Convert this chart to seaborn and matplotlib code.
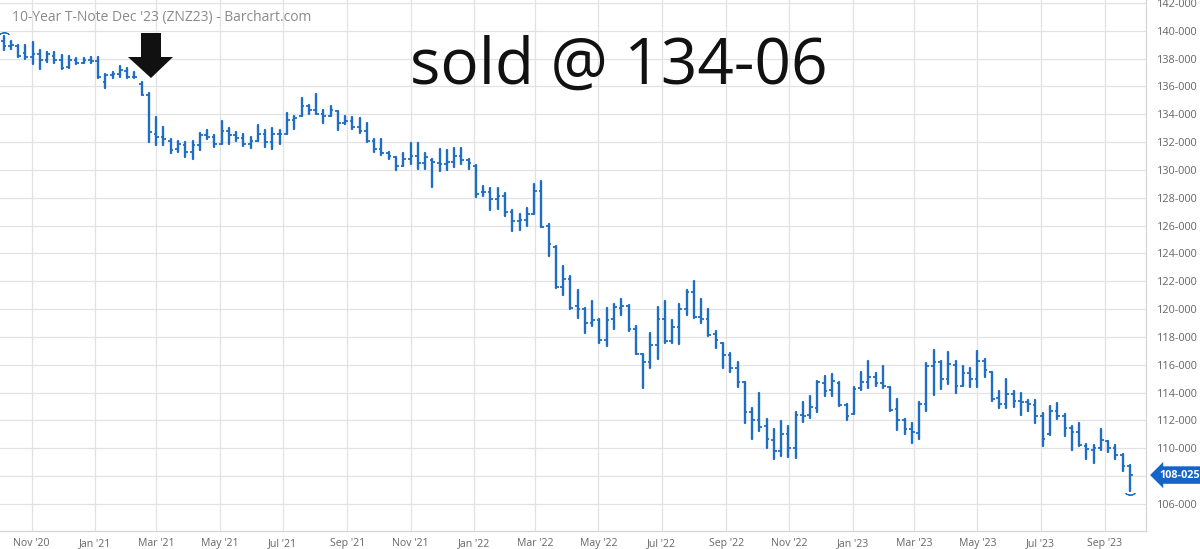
import numpy as np
import pandas as pd
import seaborn as sns
import matplotlib
matplotlib.use("Agg")
import matplotlib.pyplot as plt
import matplotlib.dates as mdates
from matplotlib.patches import Polygon
from matplotlib.ticker import FixedLocator, FuncFormatter

# weekly OHLC bars, ZNZ23 (10-Year T-Note Dec '23)
first_week = "2020-10-05"
highs = [139.65, 139.3, 139.0, 138.95, 139.2, 138.65, 138.5, 138.45, 138.25, 138.2,
         138.05, 138.05, 138.1, 138.1, 136.9, 137.05, 137.5, 137.3, 137.05, 136.35,
         135.5, 133.8, 133.05, 132.25, 132.1, 132.0, 132.1, 132.65, 132.85, 132.5,
         133.5, 133.0, 132.7, 132.6, 132.35, 133.2, 132.85, 133.0, 132.85, 134.1,
         133.9, 135.2, 134.65, 135.45, 134.3, 134.6, 134.25, 133.85, 133.8, 133.75,
         133.35, 132.25, 132.25, 131.3, 130.9, 131.2, 131.95, 131.95, 131.2, 130.8,
         131.5, 131.4, 131.55, 131.55, 130.8, 130.35, 128.85, 128.7, 128.7, 128.35,
         127.1, 126.8, 127.3, 129.0, 129.2, 126.1, 124.55, 123.1, 122.4, 121.35,
         120.1, 120.6, 119.3, 120.1, 120.4, 120.75, 120.3, 118.8, 116.8, 118.3,
         120.15, 120.55, 119.2, 120.4, 121.4, 122.05, 120.7, 120.0, 118.45, 117.6,
         116.85, 116.2, 114.8, 112.9, 113.95, 112.1, 111.4, 111.95, 111.6, 112.6,
         113.35, 113.75, 114.85, 115.2, 115.35, 114.75, 113.2, 114.4, 115.45, 116.25,
         115.4, 115.95, 114.4, 113.55, 112.1, 111.8, 113.35, 116.15, 117.05, 116.25,
         116.9, 116.3, 115.9, 115.8, 117.0, 116.4, 115.5, 114.1, 115.0, 114.1,
         114.0, 113.5, 113.5, 112.55, 113.05, 113.25, 112.5, 111.6, 111.85, 110.3,
         110.25, 111.4, 110.55, 110.25, 109.6, 108.8]
lows = [138.6, 138.7, 138.1, 138.0, 137.6, 137.25, 137.75, 137.7, 137.25, 137.3,
        137.6, 137.65, 137.65, 136.6, 135.9, 136.6, 136.7, 136.6, 136.6, 135.35,
        132.0, 131.8, 131.8, 131.2, 131.3, 130.95, 130.8, 131.45, 132.25, 131.65,
        131.9, 131.9, 132.05, 131.7, 131.6, 132.05, 131.65, 131.5, 131.9, 132.6,
        132.95, 133.9, 134.05, 134.0, 133.4, 133.85, 132.85, 133.3, 132.95, 132.65,
        132.0, 131.3, 131.1, 130.8, 130.0, 130.3, 130.45, 130.1, 130.1, 128.75,
        129.9, 130.0, 130.2, 130.45, 130.1, 128.05, 128.15, 127.1, 127.2, 126.7,
        125.6, 125.65, 126.0, 126.8, 125.9, 123.85, 121.5, 121.0, 120.0, 119.35,
        118.3, 118.8, 117.6, 117.35, 118.55, 119.55, 118.4, 116.8, 114.3, 115.75,
        116.4, 117.6, 117.6, 117.5, 119.55, 119.35, 119.0, 118.1, 117.2, 115.75,
        115.45, 114.4, 111.85, 110.65, 111.25, 110.05, 109.25, 109.45, 109.4, 109.3,
        111.9, 112.15, 112.6, 113.75, 113.75, 113.05, 112.0, 112.45, 114.2, 114.3,
        114.45, 114.3, 112.7, 111.3, 111.0, 110.4, 110.7, 112.7, 113.85, 114.25,
        114.6, 114.0, 114.5, 114.4, 114.4, 115.1, 113.4, 112.9, 112.9, 113.0,
        112.4, 112.7, 111.8, 110.2, 110.95, 112.1, 110.85, 109.85, 110.2, 109.2,
        108.95, 109.9, 109.75, 109.2, 108.4, 106.95]
opens = [139.3, 138.9, 138.9, 138.4, 138.1, 138.3, 137.9, 138.2, 137.9, 137.4,
         137.9, 137.7, 137.9, 137.8, 136.3, 136.8, 136.9, 137.1, 136.7, 136.2,
         135.4, 132.6, 132.4, 132.1, 131.5, 131.8, 131.3, 131.8, 132.5, 132.4,
         131.9, 132.8, 132.5, 132.3, 131.9, 132.1, 132.6, 132.0, 132.6, 132.6,
         133.6, 133.9, 134.6, 134.3, 134.0, 133.9, 134.2, 133.4, 133.5, 133.1,
         132.8, 132.1, 131.5, 131.2, 130.9, 130.3, 130.8, 131.0, 130.5, 130.7,
         130.5, 130.4, 130.6, 131.0, 130.7, 130.3, 128.4, 128.4, 127.9, 128.1,
         127.0, 126.3, 126.4, 126.8, 128.5, 126.0, 124.5, 121.6, 122.2, 120.2,
         120.0, 119.0, 119.2, 117.8, 119.3, 120.1, 120.2, 118.6, 116.8, 116.2,
         117.4, 119.3, 117.7, 118.7, 120.0, 121.2, 119.4, 119.3, 118.2, 117.6,
         116.7, 115.8, 114.8, 112.6, 112.0, 111.6, 110.6, 109.8, 111.0, 110.0,
         112.4, 112.4, 112.9, 114.7, 114.2, 114.7, 113.1, 112.5, 114.3, 114.8,
         115.1, 114.7, 114.4, 112.8, 112.0, 111.4, 111.1, 113.2, 115.9, 116.2,
         115.0, 116.0, 114.5, 115.4, 115.0, 116.3, 115.5, 113.6, 113.2, 113.9,
         113.4, 113.3, 113.1, 112.3, 111.0, 112.7, 112.3, 111.45, 111.2, 110.2,
         109.9, 110.0, 110.5, 110.0, 109.5, 108.7]
closes = [138.9, 139.0, 138.2, 138.1, 138.3, 137.9, 138.3, 137.9, 137.3, 137.9,
          137.7, 137.9, 137.8, 136.7, 136.8, 136.9, 137.2, 136.7, 136.7, 135.4,
          132.7, 132.4, 132.2, 131.4, 131.9, 131.3, 131.8, 132.5, 132.4, 131.9,
          132.8, 132.5, 132.3, 131.9, 132.1, 132.6, 132.0, 132.6, 132.6, 133.6,
          133.7, 134.6, 134.3, 134.0, 133.9, 134.3, 133.4, 133.5, 133.1, 132.8,
          132.1, 131.5, 131.2, 131.0, 130.3, 130.8, 131.0, 130.5, 130.9, 130.55,
          130.4, 130.6, 131.0, 130.7, 130.5, 128.3, 128.4, 127.9, 128.1, 127.0,
          126.3, 126.4, 126.8, 128.5, 125.9, 124.7, 121.6, 122.2, 120.1, 120.0,
          119.0, 119.2, 117.8, 119.25, 120.15, 120.2, 118.6, 116.8, 116.2, 117.4,
          119.3, 117.7, 118.7, 120.0, 121.2, 119.4, 119.3, 118.15, 117.75, 116.7,
          115.8, 114.8, 112.6, 112.05, 111.55, 110.65, 109.8, 111.0, 110.05, 112.4,
          112.35, 112.95, 114.75, 114.15, 114.85, 113.1, 112.35, 114.25, 114.8, 115.1,
          114.7, 114.45, 112.75, 112.05, 111.4, 111.15, 113.2, 115.95, 116.2, 115.0,
          116.05, 114.5, 115.4, 115.0, 116.3, 115.6, 113.55, 113.15, 113.9, 113.4,
          113.3, 113.15, 112.3, 110.65, 112.7, 112.3, 111.45, 111.2, 110.25, 109.95,
          110.05, 110.6, 110.05, 109.5, 108.7, 108.078]

y_ticks = list(range(106, 144, 2))
last_label = "108-025"
title_text = "10-Year T-Note Dec '23 (ZNZ23) - Barchart.com"
note_text = "sold @ 134-06"

BLUE = "#1f6ec6"
GRID = "#e2e2e2"
W, H = 1200, 549

sns.set_theme(style="white")
plt.rcParams["font.family"] = ["Open Sans", "DejaVu Sans"]

dates = pd.date_range(first_week, periods=len(highs), freq="7D")
bars = pd.DataFrame({"date": dates, "open": opens, "high": highs,
                     "low": lows, "close": closes})
bars["bar"] = np.arange(len(bars))

# long form: one high-low segment per bar
hl = pd.concat([bars[["bar", "date"]].assign(price=bars["low"]),
                bars[["bar", "date"]].assign(price=bars["high"])])

fig = plt.figure(figsize=(W / 100, H / 100), dpi=100)
ax = fig.add_axes([0, 18 / H, 1146 / W, 531 / H])

sns.lineplot(data=hl, x="date", y="price", units="bar", estimator=None,
             sort=False, color=BLUE, lw=1.7, ax=ax, legend=False)

xnum = mdates.date2num(bars["date"])
tick = 2.6  # days
ax.hlines(bars["open"], xnum - tick, xnum, color=BLUE, lw=1.3, capstyle="butt")
ax.hlines(bars["close"], xnum, xnum + tick, color=BLUE, lw=1.3, capstyle="butt")

# contract high / low markers
ax.plot(xnum[0], highs[0] + 0.22, marker=r"$\frown$", ms=7, color=BLUE, mew=0.6)
ax.plot(xnum[-1], lows[-1] - 0.2, marker=r"$\smile$", ms=7, color=BLUE, mew=0.6)

ax.set_xlim(mdates.date2num(pd.Timestamp("2020-10-01 12:00")),
            mdates.date2num(pd.Timestamp("2023-10-10 12:00")))
ax.set_ylim(104.06, 142.21)

ax.xaxis.set_major_locator(mdates.MonthLocator(bymonth=[1, 3, 5, 7, 9, 11]))
ax.xaxis.set_major_formatter(mdates.DateFormatter("%b '%y"))
ax.yaxis.set_major_locator(FixedLocator(y_ticks))
# the 108 label sits under the last-price flag
ax.yaxis.set_major_formatter(
    FuncFormatter(lambda v, p: "" if int(v) == 108 else f"{int(v)}-000"))
ax.yaxis.tick_right()
ax.tick_params(axis="y", length=0, pad=8, labelsize=7.8, labelcolor="#666666")
ax.tick_params(axis="x", length=0, pad=5, labelsize=7.6, labelcolor="#666666")
ax.set_xlabel("")
ax.set_ylabel("")
ax.grid(True, color=GRID, lw=0.9)
ax.set_axisbelow(True)
for s in ["top", "left"]:
    ax.spines[s].set_visible(False)
for s in ["right", "bottom"]:
    ax.spines[s].set_color("#d4d4d4")
    ax.spines[s].set_linewidth(0.9)

# last price flag
ax.text(1.012, closes[-1], last_label, transform=ax.get_yaxis_transform(),
        ha="left", va="center", color="white", fontsize=7.8, fontweight="bold",
        bbox=dict(boxstyle="larrow,pad=0.3", fc="#1565c8", ec="none"),
        clip_on=False)

fig.text(12 / W, 1 - 17 / H, title_text, ha="left", va="center",
         fontsize=10, color="#8a8a8a")
fig.text(410 / W, 1 - 84 / H, note_text, ha="left", va="baseline",
         fontsize=46, color="#111111")

# down arrow (pixel outline, y measured from top)
arrow_px = [(141, 33), (161, 33), (161, 57), (173, 57), (151, 78),
            (128, 57), (141, 57)]
fig.patches.append(Polygon([(x / W, 1 - y / H) for x, y in arrow_px],
                           closed=True, transform=fig.transFigure,
                           fc="#111111", ec="none"))

fig.savefig("out.png", dpi=100)
